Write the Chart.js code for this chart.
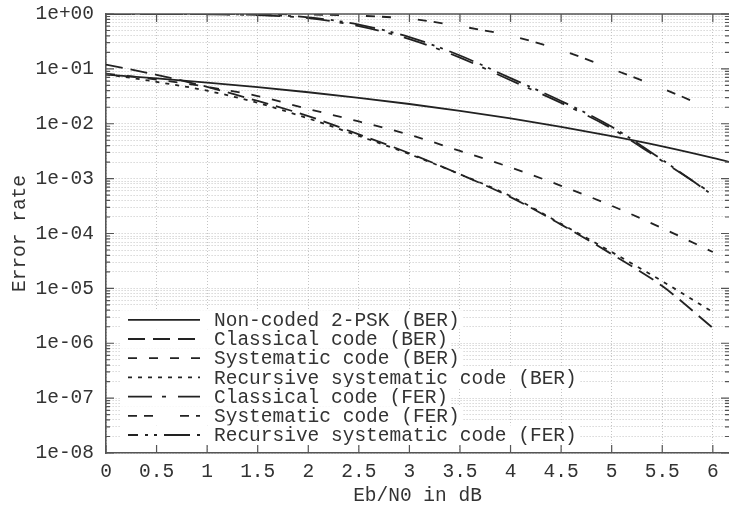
<!DOCTYPE html>
<html>
<head>
<meta charset="utf-8">
<script src="https://cdn.jsdelivr.net/npm/chart.js@4.4.1/dist/chart.umd.min.js"></script>
<style>
  html, body { margin: 0; padding: 0; background: #fff; }
  #wrap { width: 729px; height: 514px; }
</style>
</head>
<body>
<div id="wrap"><canvas id="berChart"></canvas></div>
<script>
// Eb/N0 (dB) sample points
const ebn0 = [0, 0.5, 1, 1.5, 2, 2.5, 3, 3.5, 4, 4.5, 5, 5.5, 6];
const ebn0Psk = [0, 0.5, 1, 1.5, 2, 2.5, 3, 3.5, 4, 4.5, 5, 5.5, 6, 6.5];

const pskBer = [0.0786, 0.0671, 0.0563, 0.0464, 0.0375, 0.0296, 0.0229, 0.0172, 0.0125, 0.00878, 0.00595, 0.00388, 0.00239, 0.0014];
const classicalBer = [0.12, 0.078, 0.047, 0.026, 0.0138, 0.0064, 0.0029, 0.0012, 4.6e-4, 1.45e-4, 4.2e-5, 1.1e-5, 1.9e-6];
const systematicBer = [0.082, 0.064, 0.047, 0.032, 0.0186, 0.011, 0.0063, 0.0032, 0.0016, 7.4e-4, 3.2e-4, 1.25e-4, 4.6e-5];
const recursiveBer = [0.08, 0.058, 0.04, 0.024, 0.0125, 0.006, 0.0028, 0.0012, 4.8e-4, 1.5e-4, 4.6e-5, 1.35e-5, 3.7e-6];
const classicalFer = [1.0, 0.999, 0.99, 0.95, 0.84, 0.6, 0.35, 0.16, 0.062, 0.024, 0.0082, 0.0021, 5.2e-4];
const systematicFer = [1.0, 1.0, 0.999, 0.995, 0.98, 0.93, 0.82, 0.6, 0.4, 0.22, 0.1, 0.044, 0.018];
const recursiveFer = [1.0, 1.0, 0.995, 0.965, 0.87, 0.64, 0.38, 0.175, 0.068, 0.026, 0.0088, 0.0022, 5.0e-4];

const xTicks = [0, 0.5, 1, 1.5, 2, 2.5, 3, 3.5, 4, 4.5, 5, 5.5, 6];
const decades = [-8, -7, -6, -5, -4, -3, -2, -1];
const mantissas = [1, 2, 3, 4, 5, 6, 7, 8, 9];

const yTicks = [];
decades.forEach((e) => mantissas.forEach((m) => yTicks.push({ value: m * Math.pow(10, e), major: m === 1 })));
yTicks.push({ value: 1, major: true });

const toPoints = (xs, ys) => ys.map((v, i) => ({ x: xs[i], y: v }));

const fmtPow = (v) => {
  const e = Math.round(Math.log10(v));
  if (Math.abs(Math.log10(v) - e) > 1e-6) return "";
  return "1e" + (e >= 0 ? "+" : "-") + String(Math.abs(e)).padStart(2, "0");
};

const MONO = '"Liberation Mono", "DejaVu Sans Mono", monospace';
const INK = "#222";

const line = (label, xs, ys, dash, offset) => ({
  label,
  data: toPoints(xs, ys),
  borderColor: INK,
  borderWidth: 1.8,
  borderDash: dash,
  borderDashOffset: offset || 0,
  pointRadius: 0,
  fill: false,
  cubicInterpolationMode: "monotone",
});

// gnuplot-style inward ticks + top frame
const innerTicks = {
  id: "innerTicks",
  afterDatasetsDraw(chart) {
    const { ctx, chartArea: a, scales: { x, y } } = chart;
    ctx.save();
    ctx.strokeStyle = "#555";
    ctx.lineWidth = 1.2;
    ctx.beginPath();
    x.ticks.forEach((t) => {
      const px = x.getPixelForValue(t.value);
      ctx.moveTo(px, a.bottom);
      ctx.lineTo(px, a.bottom - 8);
      ctx.moveTo(px, a.top);
      ctx.lineTo(px, a.top + 8);
    });
    y.ticks.forEach((t) => {
      const py = y.getPixelForValue(t.value);
      const len = t.major ? 8 : 4;
      ctx.moveTo(a.left, py);
      ctx.lineTo(a.left + len, py);
      ctx.moveTo(a.right, py);
      ctx.lineTo(a.right - len, py);
    });
    ctx.stroke();
    ctx.lineWidth = 1.6;
    ctx.beginPath();
    ctx.moveTo(a.left, a.top);
    ctx.lineTo(a.right, a.top);
    ctx.stroke();
    ctx.restore();
  },
};

// key drawn inside the plot, lower left
const insideLegend = {
  id: "insideLegend",
  afterDatasetsDraw(chart) {
    const { ctx, chartArea: a } = chart;
    const rowH = 19.2;
    const n = chart.data.datasets.length;
    ctx.save();
    ctx.font = "19.5px " + MONO;
    ctx.textBaseline = "middle";
    chart.data.datasets.forEach((ds, i) => {
      const y = a.bottom - 18 - (n - 1 - i) * rowH;
      const w = ctx.measureText(ds.label).width;
      ctx.fillStyle = "#fff";
      ctx.fillRect(a.left + 15, y - rowH / 2, 108 - 15 + w + 3, rowH);
      ctx.strokeStyle = ds.borderColor;
      ctx.lineWidth = ds.borderWidth;
      ctx.setLineDash(ds.borderDash);
      ctx.lineDashOffset = ds.borderDashOffset;
      ctx.beginPath();
      ctx.moveTo(a.left + 22, y);
      ctx.lineTo(a.left + 94, y);
      ctx.stroke();
      ctx.setLineDash([]);
      ctx.fillStyle = "#333";
      ctx.fillText(ds.label, a.left + 108, y + 1);
    });
    ctx.restore();
  },
};

Chart.defaults.font.family = MONO;
Chart.defaults.font.size = 19.5;
Chart.defaults.color = "#333";

new Chart(document.getElementById("berChart"), {
  type: "line",
  data: {
    datasets: [
      line("Non-coded 2-PSK (BER)", ebn0Psk, pskBer, []),
      line("Classical code (BER)", ebn0, classicalBer, [17, 8]),
      line("Systematic code (BER)", ebn0, systematicBer, [9, 12]),
      line("Recursive systematic code (BER)", ebn0, recursiveBer, [4, 6]),
      line("Classical code (FER)", ebn0, classicalFer, [24, 10, 4, 12]),
      line("Systematic code (FER)", ebn0, systematicFer, [9, 7, 9, 27]),
      line("Recursive systematic code (FER)", ebn0, recursiveFer, [26, 7, 3, 6, 3, 7], 16),
    ],
  },
  options: {
    responsive: true,
    maintainAspectRatio: false,
    animation: false,
    layout: { padding: { top: 14, right: 0, left: 0, bottom: 0 } },
    plugins: {
      legend: { display: false },
      tooltip: { enabled: false },
    },
    scales: {
      x: {
        type: "linear",
        min: 0,
        max: 6.16,
        afterBuildTicks: (scale) => {
          scale.ticks = xTicks.map((v) => ({ value: v }));
        },
        afterFit: (scale) => {
          scale.height = 61;
          scale.paddingLeft = 0;
          scale.paddingRight = 0;
        },
        ticks: {
          autoSkip: false,
          maxRotation: 0,
          padding: 7,
          callback: (v) => String(v),
        },
        grid: { color: "#c4c4c4", lineWidth: 1, drawTicks: false },
        border: { display: true, color: "#555", width: 1.6, dash: [1, 2] },
        title: {
          display: true,
          text: "Eb/N0 in dB",
          padding: { top: 0, bottom: 6 },
        },
      },
      y: {
        type: "logarithmic",
        min: 1e-8,
        max: 1,
        afterBuildTicks: (scale) => {
          scale.ticks = yTicks.map((t) => ({ value: t.value, major: t.major }));
        },
        afterFit: (scale) => {
          scale.width = 106;
          scale.paddingTop = 0;
          scale.paddingBottom = 0;
        },
        ticks: {
          autoSkip: false,
          padding: 12,
          callback: (v) => fmtPow(v),
        },
        grid: { color: "#c4c4c4", lineWidth: 1, drawTicks: false },
        border: { display: true, color: "#555", width: 1.6, dash: [1, 2] },
        title: {
          display: true,
          text: "Error rate",
          padding: { top: 8, bottom: 0 },
        },
      },
    },
  },
  plugins: [innerTicks, insideLegend],
});
</script>
</body>
</html>
